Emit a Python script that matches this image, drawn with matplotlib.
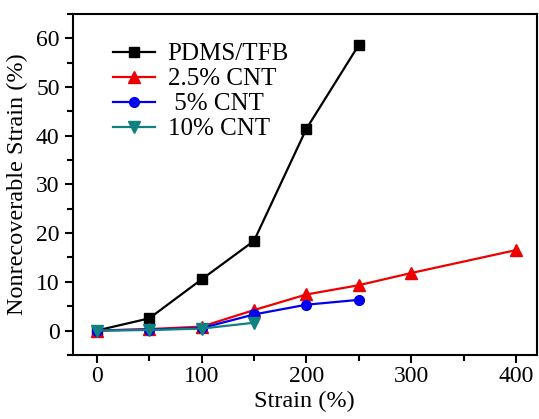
import matplotlib
matplotlib.use("Agg")
import matplotlib.pyplot as plt
from matplotlib.ticker import MultipleLocator

plt.rcParams["font.family"] = ["Liberation Serif", "DejaVu Serif"]

strain_pdms = [0, 50, 100, 150, 200, 250]
residual_pdms = [0, 2.5, 10.5, 18.4, 41.4, 58.6]

strain_cnt25 = [0, 50, 100, 150, 200, 250, 300, 400]
residual_cnt25 = [0, 0.3, 0.8, 4.2, 7.4, 9.3, 11.8, 16.5]

strain_cnt5 = [0, 50, 100, 150, 200, 250]
residual_cnt5 = [0, 0.2, 0.5, 3.3, 5.3, 6.3]

strain_cnt10 = [0, 50, 100, 150]
residual_cnt10 = [0, 0.1, 0.4, 1.6]

fig = plt.figure(figsize=(5.39, 4.19), dpi=100)
ax = fig.add_axes([0.135, 0.153, 0.861, 0.814])

ax.plot(strain_pdms, residual_pdms, color="black", marker="s", ms=7, lw=1.6, label="PDMS/TFB")
ax.plot(strain_cnt25, residual_cnt25, color="#ee0000", marker="^", ms=8, lw=1.6, label="2.5% CNT")
ax.plot(strain_cnt5, residual_cnt5, color="#0000ee", marker="o", ms=7, lw=1.6, label=" 5% CNT")
ax.plot(strain_cnt10, residual_cnt10, color="#108080", marker="v", ms=8, lw=1.6, label="10% CNT")

ax.set_xlim(-23, 420)
ax.set_ylim(-5, 65)
ax.xaxis.set_major_locator(MultipleLocator(100))
ax.xaxis.set_minor_locator(MultipleLocator(50))
ax.yaxis.set_major_locator(MultipleLocator(10))
ax.yaxis.set_minor_locator(MultipleLocator(5))
ax.tick_params(which="both", direction="out", width=1.5, labelsize=17)
ax.tick_params(which="major", length=6)
ax.tick_params(which="minor", length=4)
ax.tick_params(axis="x", pad=2)
for side in ax.spines.values():
    side.set_linewidth(1.5)

ax.set_xlabel("Strain (%)", fontsize=17.5, labelpad=3)
ax.set_ylabel("Nonrecoverable Strain (%)", fontsize=17.5, labelpad=6)

ax.legend(loc="upper left", bbox_to_anchor=(0.086, 0.915), frameon=False, fontsize=18,
          handlelength=1.7, labelspacing=0.1, handletextpad=0.5,
          borderaxespad=0, borderpad=0)

fig.savefig("out.png", dpi=100)
